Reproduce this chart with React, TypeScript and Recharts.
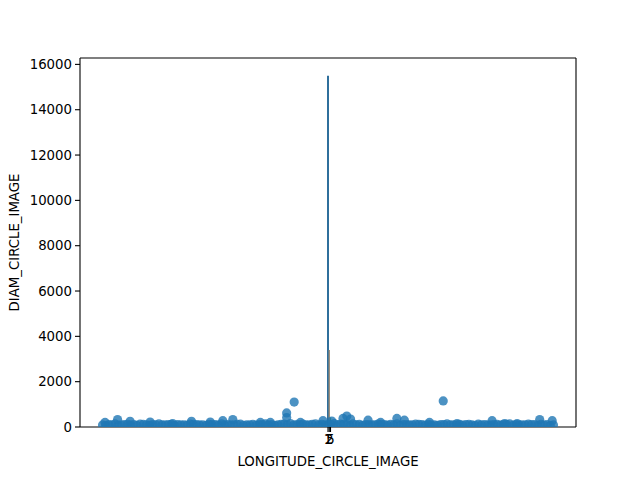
import React from 'react';
import {
  ComposedChart,
  Scatter,
  XAxis,
  YAxis,
  ReferenceLine,
} from 'recharts';

// crater longitudes (deg) and diameters
const longitudes = [
  -180, -175, -170, -165, -160, -155, -150, -145, -140, -135, -130, -125, -120,
  -115, -110, -105, -100, -95, -90, -85, -80, -75, -70, -65, -60, -55, -50, -45,
  -40, -35, -30, -25, -20, -15, -10, -5, 0, 5, 10, 15, 20, 25, 30, 35, 40, 45, 50,
  55, 60, 65, 70, 75, 80, 85, 90, 95, 100, 105, 110, 115, 120, 125, 130, 135, 140,
  145, 150, 155, 160, 165, 170, 175, 180,
  -177.5, -172.5, -167.5, -162.5, -157.5, -152.5, -147.5, -142.5, -137.5, -132.5,
  -127.5, -122.5, -117.5, -112.5, -107.5, -102.5, -97.5, -92.5, -87.5, -82.5,
  -77.5, -72.5, -67.5, -62.5, -57.5, -52.5, -47.5, -42.5, -37.5, -32.5, -27.5,
  -22.5, -17.5, -12.5, -7.5, -2.5, 2.5, 7.5, 12.5, 17.5, 22.5, 27.5, 32.5, 37.5,
  42.5, 47.5, 52.5, 57.5, 62.5, 67.5, 72.5, 77.5, 82.5, 87.5, 92.5, 97.5, 102.5,
  107.5, 112.5, 117.5, 122.5, 127.5, 132.5, 137.5, 142.5, 147.5, 152.5, 157.5,
  162.5, 167.5, 172.5, 177.5,
  -178, -168, -158, -142, -124, -109, -94, -84, -76, -54, -46, -33, -33, -27, -22,
  -4, 3, 12, 15, 18, 32, 42, 55, 61, 81, 92, 103, 131, 141, 151, 169, 179,
];
const diameters = [
  90, 110, 140, 100, 120, 110, 130, 100, 110, 140, 100, 120, 110,
  90, 130, 110, 100, 120, 110, 140, 110, 100, 130, 90, 120, 110, 140, 110,
  100, 130, 150, 110, 130, 100, 140, 120, 110, 150, 130, 110, 140, 120, 110, 100, 130, 110, 120,
  140, 110, 100, 130, 110, 120, 90, 110, 140, 100, 120, 110, 90, 130, 110, 100, 120, 110,
  140, 110, 100, 130, 110, 120, 110, 90,
  70, 100, 80, 110, 90, 70, 120, 80, 100, 90,
  110, 70, 100, 80, 120, 90, 70, 110, 80, 100,
  90, 120, 70, 100, 80, 110, 90, 70, 120, 100, 80,
  110, 90, 120, 80, 100, 110, 90, 120, 80, 100, 70, 110, 90,
  120, 80, 100, 70, 110, 90, 120, 80, 100, 70, 110, 90, 100,
  80, 120, 70, 100, 90, 110, 80, 120, 70, 100, 90,
  110, 80, 100, 70,
  200, 330, 250, 220, 150, 250, 220, 280, 330, 200, 200, 620, 420, 1100, 200,
  280, 260, 380, 480, 350, 300, 200, 380, 300, 200, 1150, 150, 280, 150, 150, 330, 280,
];

// the thin bars sitting at the first category slots
const barSlots = [0, 1, 2];
const barHeights = [15500, 3400, 420];
const barColors = ['#2f6f9c', '#9a8a76', '#3a923a'];
const barWidths = [2, 1.4, 1.4];

const tickSlots = [0, 1, 2];
const tickNames = ['1', '2', '5'];
const yTicks = [0, 2000, 4000, 6000, 8000, 10000, 12000, 14000, 16000];

const xMin = -198;
const xMax = 198;
const yMax = 16282;

const points = longitudes.map((lon, i) => ({ lon, diam: diameters[i] }));

const FONT = '"DejaVu Sans", sans-serif';
const tickStyle = { fontSize: 13.3, fill: '#000', fontFamily: FONT };

const Dot = (props: { cx?: number; cy?: number }) => {
  const { cx, cy } = props;
  if (cx == null || cy == null) return null;
  return <circle cx={cx} cy={cy} r={4.6} fill="#1f77b4" fillOpacity={0.8} />;
};

export default function App() {
  return (
    <div style={{ position: 'absolute', left: 0, top: 0, width: 640, height: 480, background: '#fff' }}>
      <ComposedChart
        width={640}
        height={480}
        data={points}
        margin={{ top: 58, right: 64, bottom: 0, left: 0 }}
      >
        <XAxis
          dataKey="lon"
          type="number"
          domain={[xMin, xMax]}
          allowDataOverflow
          ticks={tickSlots}
          interval={0}
          tickFormatter={(v: number) => tickNames[tickSlots.indexOf(v)] ?? ''}
          tick={tickStyle}
          tickSize={5}
          tickMargin={3}
          tickLine={{ stroke: '#000', strokeWidth: 1.1 }}
          axisLine={{ stroke: '#000', strokeWidth: 1.1 }}
          height={53}
          label={{
            value: 'LONGITUDE_CIRCLE_IMAGE',
            position: 'insideBottom',
            offset: 14,
            fontSize: 13.3,
            fill: '#000',
            fontFamily: FONT,
          }}
        />
        <YAxis
          dataKey="diam"
          type="number"
          domain={[0, yMax]}
          allowDataOverflow
          ticks={yTicks}
          interval={0}
          width={80}
          tick={tickStyle}
          tickSize={5}
          tickMargin={3}
          tickLine={{ stroke: '#000', strokeWidth: 1.1 }}
          axisLine={{ stroke: '#000', strokeWidth: 1.1 }}
          label={{
            value: 'DIAM_CIRCLE_IMAGE',
            angle: -90,
            position: 'insideLeft',
            offset: 14,
            fontSize: 13.3,
            fill: '#000',
            fontFamily: FONT,
            style: { textAnchor: 'middle' },
          }}
        />
        <Scatter data={points} dataKey="diam" shape={<Dot />} isAnimationActive={false} />
        {barSlots.map((slot, i) => (
          <ReferenceLine
            key={slot}
            segment={[
              { x: slot, y: 0 },
              { x: slot, y: barHeights[i] },
            ]}
            stroke={barColors[i]}
            strokeWidth={barWidths[i]}
          />
        ))}
        {/* top and right spines */}
        <ReferenceLine y={yMax} stroke="#000" strokeWidth={1.1} />
        <ReferenceLine x={xMax} stroke="#000" strokeWidth={1.1} />
      </ComposedChart>
    </div>
  );
}
